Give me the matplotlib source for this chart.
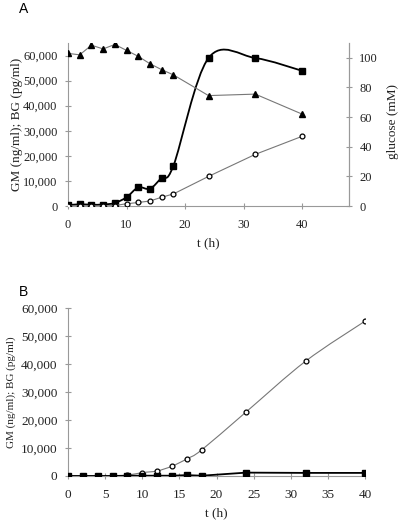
import numpy as np
import matplotlib.pyplot as plt
from matplotlib.path import Path
from matplotlib.patches import PathPatch
from matplotlib.ticker import FuncFormatter

plt.rcParams['font.family'] = 'Liberation Serif'

# panel A
t_a = [0, 2, 4, 6, 8, 10, 12, 14, 16, 18, 24, 32, 40]
gm_a = [300, 700, 500, 600, 1200, 3500, 7400, 6900, 11300, 16000, 59000, 59000, 53900]
bg_a = [0, 0, 0, 0, 200, 900, 1400, 2000, 3500, 4800, 11800, 20600, 27800]
glc_a = [103, 102, 108.5, 106, 109, 105, 101, 96, 92, 88.5, 74.5, 75.5, 62]

# panel B
t_b = [0, 2, 4, 6, 8, 10, 12, 14, 16, 18, 24, 32, 40]
gm_b = [0, 0, 0, 0, 100, 100, 100, 100, 300, 100, 1200, 1100, 1100]
bg_b = [0, 0, 0, 0, 300, 1200, 1800, 3500, 6100, 9300, 22900, 41000, 55300]


def smooth_path(x, y):
    # bezier curve through the points, like a spreadsheet "smoothed line"
    pts = np.column_stack([x, y]).astype(float)
    n = len(pts)
    verts = [pts[0]]
    codes = [Path.MOVETO]
    for i in range(n - 1):
        p0 = pts[i - 1] if i > 0 else pts[i]
        p1 = pts[i]
        p2 = pts[i + 1]
        p3 = pts[i + 2] if i + 2 < n else pts[i + 1]
        c1 = p1 + (p2 - p0) / 6
        c2 = p2 - (p3 - p1) / 6
        verts += [c1, c2, p2]
        codes += [Path.CURVE4] * 3
    return Path(verts, codes)


def style(ax, size):
    for s in ['top', 'right']:
        ax.spines[s].set_visible(False)
    for s in ['left', 'bottom']:
        ax.spines[s].set_color('#999999')
    ax.tick_params(direction='inout', length=5, color='#999999', labelsize=size,
                   labelcolor='#222222')
    ax.tick_params(axis='x', pad=7)
    ax.tick_params(axis='y', pad=5)


thou = FuncFormatter(lambda v, p: f"{int(v):,}")

fig = plt.figure(figsize=(4.0, 5.23), dpi=100)

ax = fig.add_axes([0.17, 0.6061, 0.7025, 0.3117])
style(ax, 9)
ax.spines['right'].set_visible(True)
ax.spines['right'].set_color('#999999')
ax.set_xlim(0, 48)
ax.set_ylim(0, 65000)
ax.set_xticks([0, 10, 20, 30, 40])
ax.set_yticks(range(0, 60001, 10000))
ax.yaxis.set_major_formatter(thou)
ax.add_patch(PathPatch(smooth_path(t_a, gm_a), fill=False, edgecolor='black', lw=1.3, zorder=3))
ax.plot(t_a, gm_a, ls='none', marker='s', ms=4, color='black', zorder=4)
ax.plot(t_a, bg_a, color='#777777', lw=0.8, marker='o', ms=3.5, mfc='white', mec='black', mew=0.9, zorder=4)
ax.set_xlabel('t (h)', fontsize=9.5, color='#222222')
ax.xaxis.set_label_coords(0.5, -0.19)
ax.set_ylabel('GM (ng/ml); BG (pg/ml)', fontsize=9.5, color='#222222')
ax.yaxis.set_label_coords(-0.16, 0.5)

ax2 = ax.twinx()
for s in ['top', 'left', 'bottom']:
    ax2.spines[s].set_visible(False)
ax2.spines['right'].set_color('#999999')
ax2.tick_params(direction='inout', length=5, color='#999999', labelsize=9,
                labelcolor='#222222', pad=5)
ax2.set_ylim(0, 110)
ax2.set_yticks(range(0, 101, 20))
ax2.plot(t_a, glc_a, color='#777777', lw=0.8, marker='^', ms=5, mfc='black', mec='black', zorder=4)
ax2.set_ylabel('glucose (mM)', fontsize=9.5, color='#222222')
ax2.yaxis.set_label_coords(1.135, 0.52)

fig.text(0.047, 0.997, 'A', fontsize=10, family='Liberation Sans', va='top')

bx = fig.add_axes([0.17, 0.0899, 0.7425, 0.3212])
style(bx, 9.5)
bx.set_xlim(0, 40)
bx.set_ylim(0, 60000)
bx.set_xticks(range(0, 41, 5))
bx.set_yticks(range(0, 60001, 10000))
bx.yaxis.set_major_formatter(thou)
bx.add_patch(PathPatch(smooth_path(t_b, bg_b), fill=False, edgecolor='#777777', lw=0.8, zorder=3))
bx.plot(t_b, bg_b, ls='none', marker='o', ms=3.5, mfc='white', mec='black', mew=0.9, zorder=4)
bx.plot(t_b, gm_b, color='black', lw=1.3, marker='s', ms=4, zorder=5)
bx.set_xlabel('t (h)', fontsize=9.5, color='#222222')
bx.xaxis.set_label_coords(0.5, -0.185)
bx.set_ylabel('GM (ng/ml); BG (pg/ml)', fontsize=8, color='#222222')
bx.yaxis.set_label_coords(-0.175, 0.5)

fig.text(0.047, 0.456, 'B', fontsize=10, family='Liberation Sans', va='top')

fig.savefig('out.png', dpi=100)
